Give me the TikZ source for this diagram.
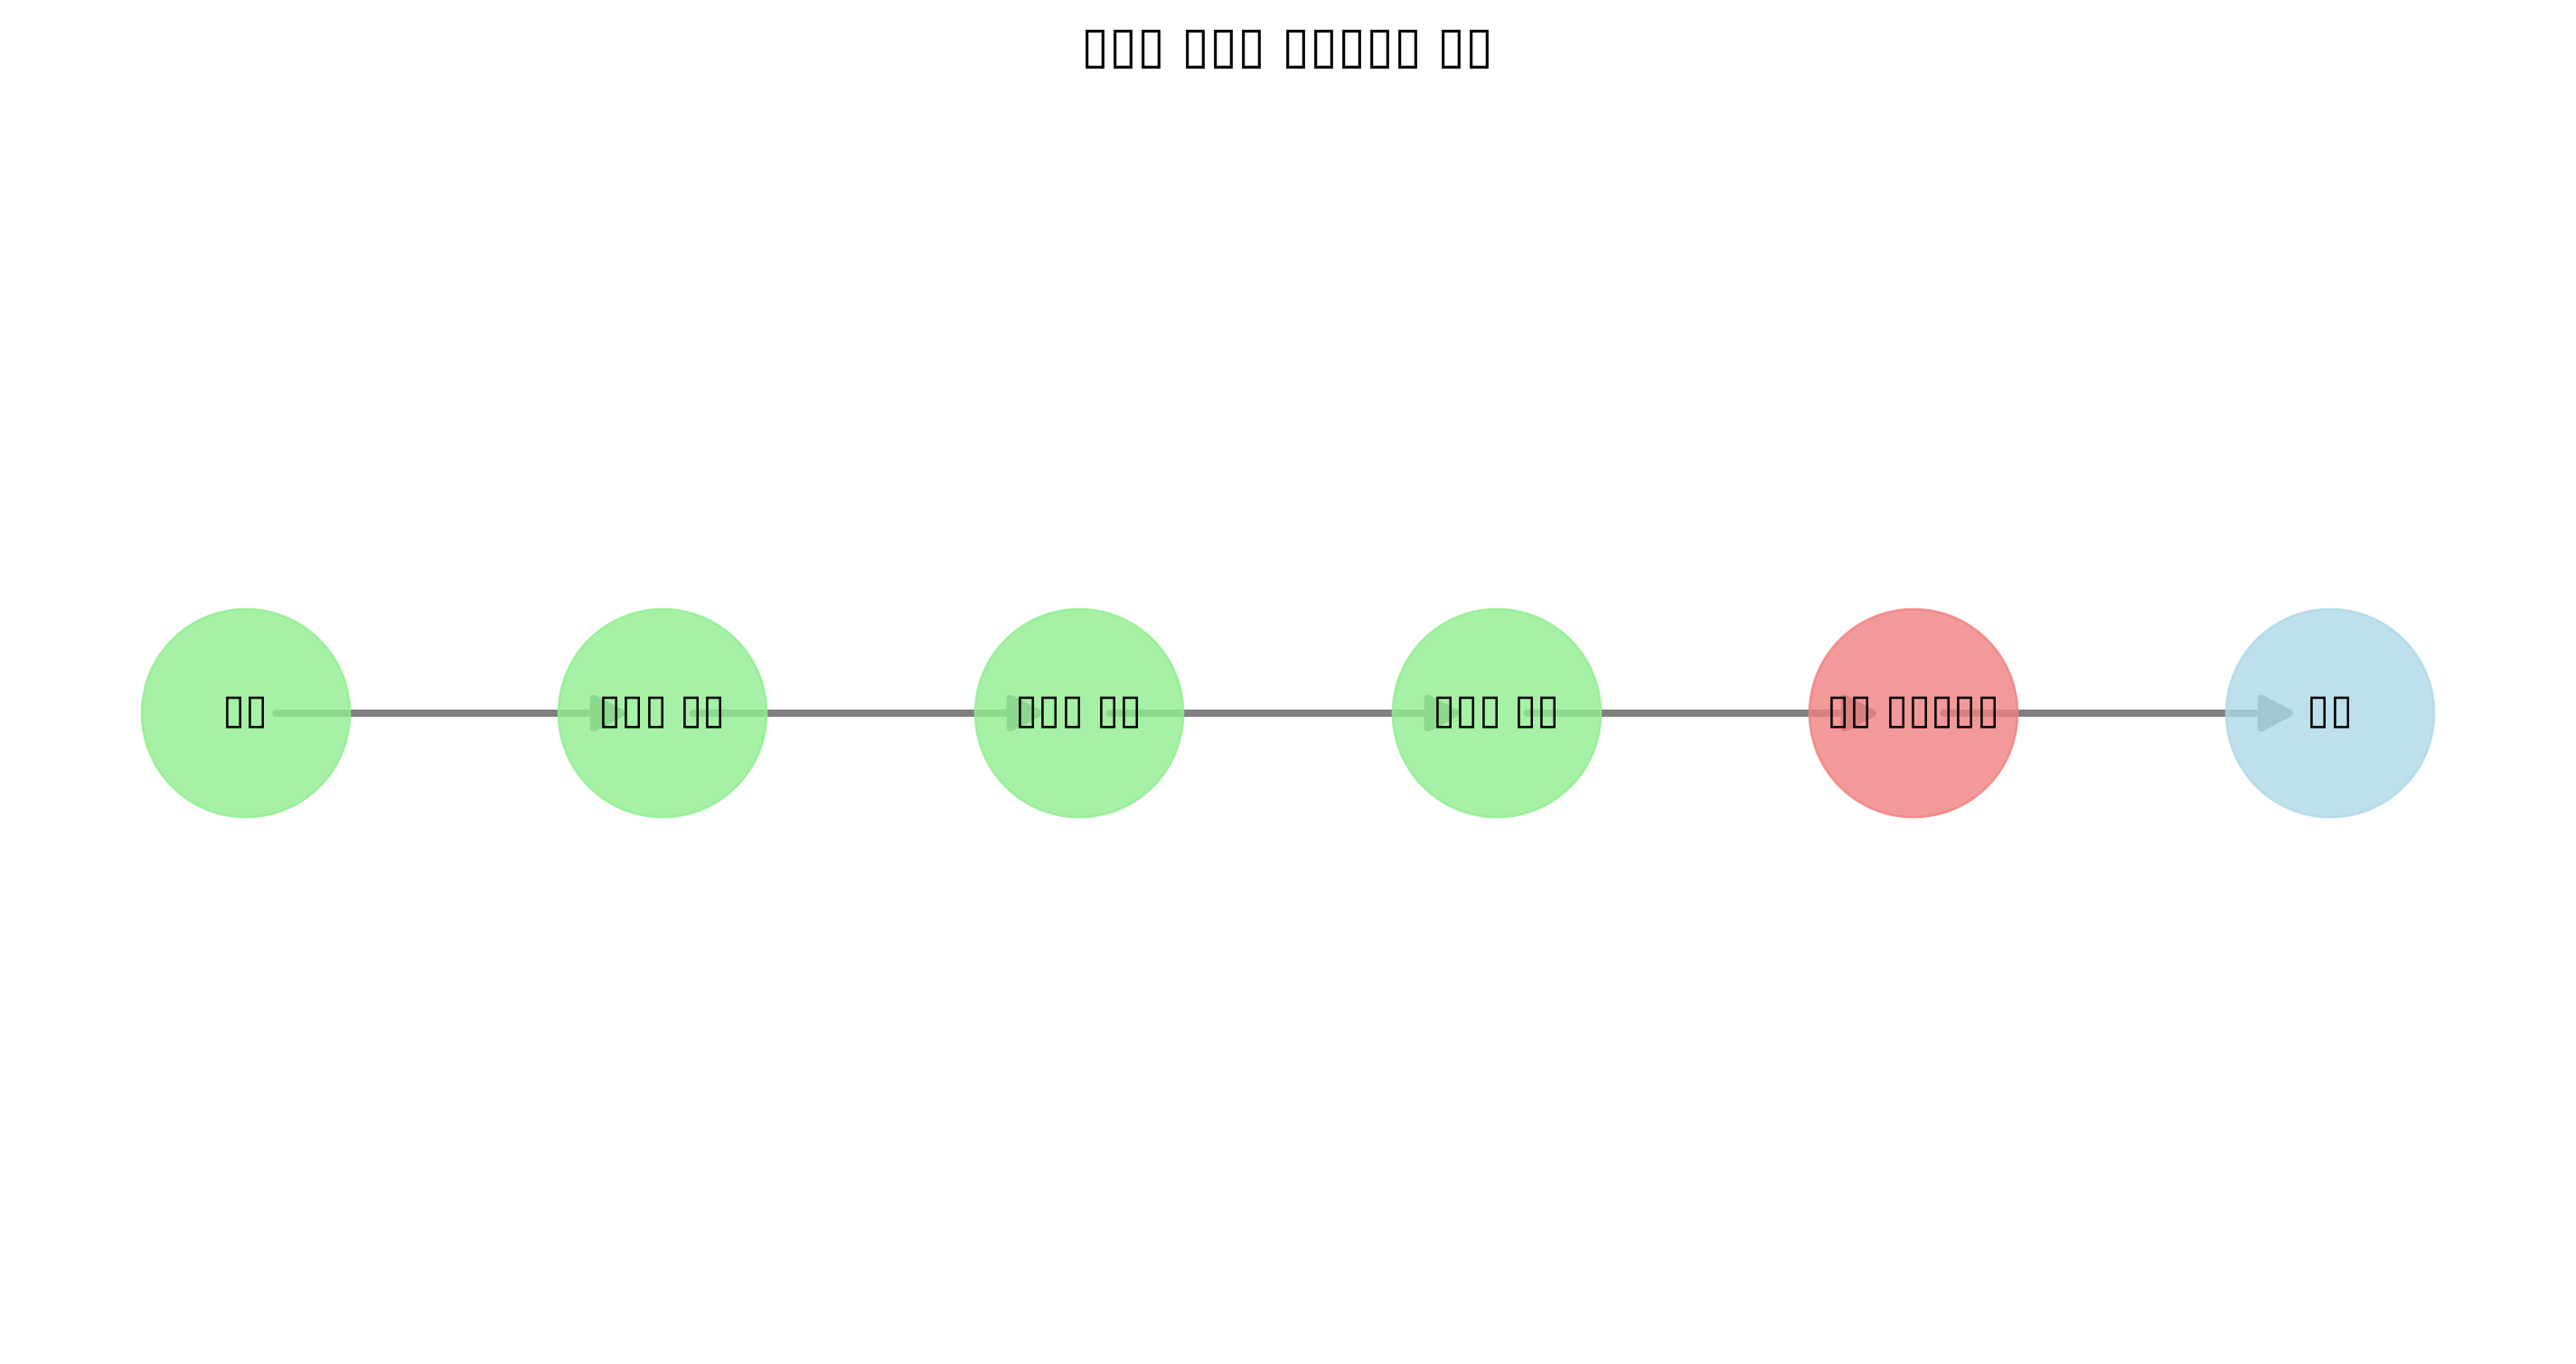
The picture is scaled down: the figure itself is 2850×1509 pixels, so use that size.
\documentclass[tikz,border=0pt]{standalone}
\usepackage{fontspec}
\setmainfont{DejaVu Sans}
\usetikzlibrary{arrows.meta,backgrounds}
\definecolor{nodegreen}{HTML}{90EE90}
\definecolor{nodered}{HTML}{F08080}
\definecolor{nodeblue}{HTML}{ADD8E6}
\definecolor{edgegray}{HTML}{808080}
\tikzset{
    stepnode/.style={circle, minimum size=2.3cm, inner sep=0pt, line width=0.025cm,
        fill opacity=0.8, draw opacity=0.8, text opacity=1, font=\fontsize{13}{15}\selectfont},
    flow/.style={edgegray, line width=0.075cm, line cap=round,
        -{Triangle[length=0.44cm,width=0.44cm,round]},
        shorten <=0.33cm, shorten >=0.41cm}
}
\begin{document}
\begin{tikzpicture}[x=0.01cm,y=-0.01cm]
    % Fix the page size
    \useasboundingbox (0,0) rectangle (2850,1509);

    % Title
    \node (title) at (1425,55) {\fontsize{16}{19}\selectfont ▯▯▯ ▯▯▯ ▯▯▯▯▯ ▯▯};

    % The steps
    \node[stepnode, fill=nodegreen, draw=nodegreen] (start) at (272,789) {▯▯};
    \node[stepnode, fill=nodegreen, draw=nodegreen] (stepa) at (733,789) {▯▯▯ ▯▯};
    \node[stepnode, fill=nodegreen, draw=nodegreen] (stepb) at (1194,789) {▯▯▯ ▯▯};
    \node[stepnode, fill=nodegreen, draw=nodegreen] (stepc) at (1656,789) {▯▯▯ ▯▯};
    \node[stepnode, fill=nodered, draw=nodered] (fail) at (2117,789) {▯▯ ▯▯▯▯▯};
    \node[stepnode, fill=nodeblue, draw=nodeblue] (finish) at (2578,789) {▯▯};

    % Connectors under the steps
    \begin{scope}[on background layer]
        \draw[flow] (start.center) -- (stepa.center);
        \draw[flow] (stepa.center) -- (stepb.center);
        \draw[flow] (stepb.center) -- (stepc.center);
        \draw[flow] (stepc.center) -- (fail.center);
        \draw[flow] (fail.center) -- (finish.center);
    \end{scope}
\end{tikzpicture}
\end{document}
